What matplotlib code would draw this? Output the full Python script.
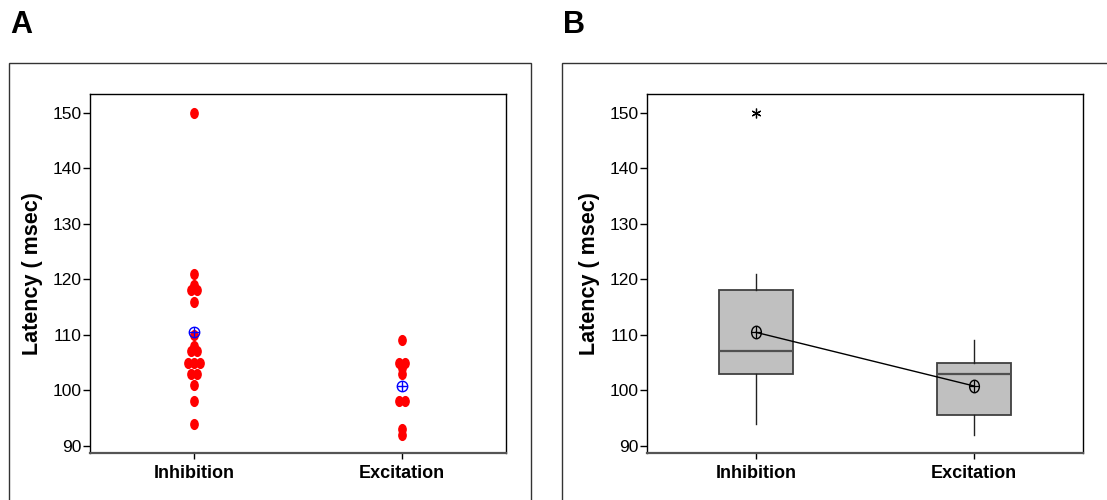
import numpy as np
import matplotlib.pyplot as plt
from matplotlib.markers import MarkerStyle
from matplotlib.transforms import Affine2D
from matplotlib.patches import Rectangle

# latency values
groups = ['Inhibition', 'Excitation']
inhibition = [150, 121, 119, 118, 118, 116, 110, 108, 107, 107,
              105, 105, 105, 103, 103, 101, 98, 94]
excitation = [109, 105, 105, 104, 103, 98, 98, 93, 92]
yticks = [90, 100, 110, 120, 130, 140, 150]
ylabel = 'Latency ( msec)'

plt.rcParams['font.family'] = ['Liberation Sans Narrow', 'Liberation Sans', 'DejaVu Sans']

W, H = 1107, 500
fig = plt.figure(figsize=(W / 100, H / 100), dpi=100)

def fx(px):
    return px / W

def fy(py):
    return 1 - py / H

# outer panel frames (bottom/right run off the picture)
for x0, x1 in [(9, 531), (562, 1200)]:
    fig.patches.append(Rectangle((fx(x0), fy(520)), fx(x1 - x0), (520 - 63) / H,
                                 transform=fig.transFigure, fill=False,
                                 edgecolor='#333333', lw=1.0, clip_on=False))

fig.text(fx(10), fy(25), 'A', fontsize=22, fontweight='bold', va='center',
         family='Liberation Sans')
fig.text(fx(563), fy(25), 'B', fontsize=22, fontweight='bold', va='center',
         family='Liberation Sans')

axA = fig.add_axes([fx(90), fy(453), fx(506 - 90), (453 - 94) / H])
axB = fig.add_axes([fx(647), fy(453), fx(1083 - 647), (453 - 94) / H])

data = [inhibition, excitation]


def style(ax):
    ax.set_xlim(0.5, 2.5)
    ax.set_ylim(88.7, 153.4)
    ax.set_yticks(yticks)
    ax.set_xticks([1, 2])
    ax.set_xticklabels(groups, fontsize=13, fontweight='bold')
    ax.tick_params(axis='y', labelsize=12.5, length=5, width=1, direction='out', pad=1)
    ax.tick_params(axis='x', length=4, width=1, direction='out', pad=5)
    for s in ax.spines.values():
        s.set_linewidth(1.0)
        s.set_color('black')
    ax.spines['bottom'].set_color('#555555')
    ax.spines['bottom'].set_linewidth(1.6)
    ax.set_ylabel(ylabel, fontsize=15.5, fontweight='bold', family='Liberation Sans',
                  labelpad=7)


# A: individual value plot
dot = MarkerStyle('o', transform=Affine2D().scale(0.75, 1.0))
step = 0.031
for i, vals in enumerate(data):
    vals = np.array(vals)
    xs, ys = [], []
    for v in np.unique(vals):
        k = np.sum(vals == v)
        for j in range(k):
            xs.append(i + 1 + (j - (k - 1) / 2) * step)
            ys.append(v)
    axA.plot(xs, ys, linestyle='none', marker=dot, ms=7, color='#ff0000', mec='#ff0000')
    m = vals.mean()
    axA.plot(i + 1, m, marker='o', ms=7.5, mfc='none', mec='#0000ff', mew=1.0)
    axA.plot(i + 1, m, marker='+', ms=7.5, mec='#0000ff', mew=1.0)
style(axA)

# B: boxplot with Minitab style quartiles
stats = []
for vals in data:
    vals = np.array(vals, dtype=float)
    q1, med, q3 = np.percentile(vals, [25, 50, 75], method='weibull')
    iqr = q3 - q1
    lo = vals[vals >= q1 - 1.5 * iqr].min()
    hi = vals[vals <= q3 + 1.5 * iqr].max()
    fl = vals[(vals < lo) | (vals > hi)]
    stats.append(dict(q1=q1, med=med, q3=q3, whislo=lo, whishi=hi, fliers=fl,
                      mean=vals.mean()))

axB.bxp(stats, positions=[1, 2], widths=0.34, patch_artist=True, showcaps=False,
        boxprops=dict(facecolor='#c0c0c0', edgecolor='#404040', lw=1.3),
        medianprops=dict(color='#505050', lw=1.6),
        whiskerprops=dict(color='#222222', lw=1.0),
        flierprops=dict(marker=(6, 2, 0), ms=7, mec='black', mew=0.9))
means = [s['mean'] for s in stats]
axB.plot([1, 2], means, color='black', lw=1.0)
ell = MarkerStyle('o', transform=Affine2D().scale(0.78, 1.0))
ell_cross = MarkerStyle('+', transform=Affine2D().scale(0.78, 1.0))
axB.plot([1, 2], means, linestyle='none', marker=ell, ms=9, mfc='none', mec='black', mew=1.0)
axB.plot([1, 2], means, linestyle='none', marker=ell_cross, ms=9, mec='black', mew=0.9)
style(axB)

fig.savefig('out.png', dpi=100)
